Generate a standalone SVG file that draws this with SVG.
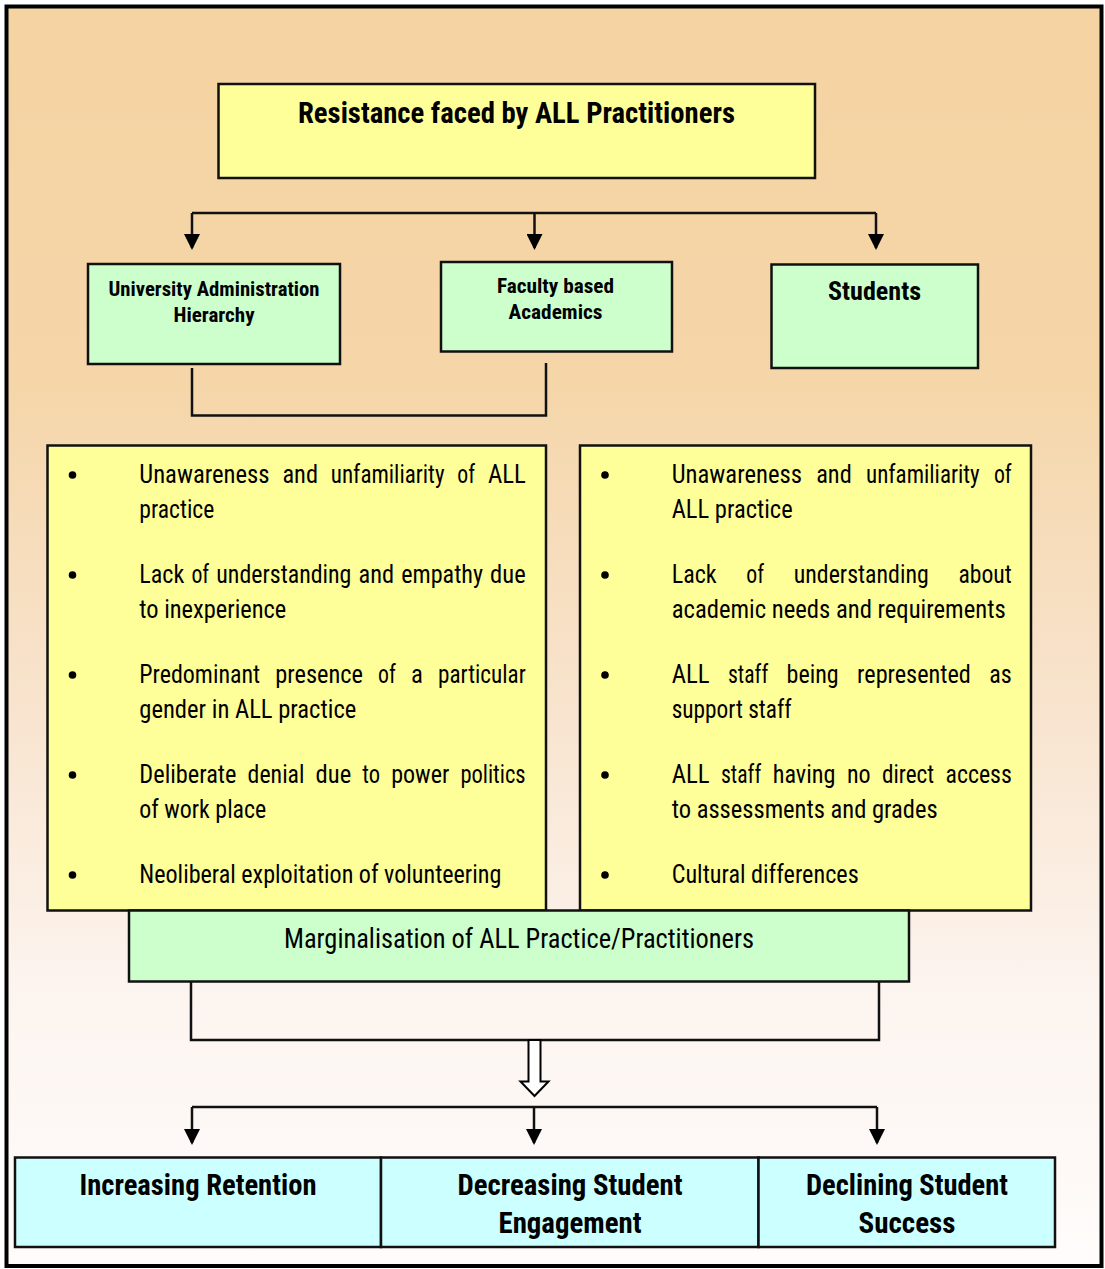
<svg xmlns="http://www.w3.org/2000/svg" width="1105" height="1269" viewBox="0 0 1105 1269">
<style>
.t{font-family:"Liberation Sans Narrow","Arial Narrow","Roboto Condensed","Liberation Sans",Arial,sans-serif;fill:#000}
.b{font-weight:bold}
.c{text-anchor:middle}
.box{stroke:#111;stroke-width:2.5}
.yel{fill:#FFFF99}
.grn{fill:#CCFFCC}
.cyn{fill:#CCFFFF}
.ln{fill:none;stroke:#111;stroke-width:2.5}
.body{font-size:25px}
.dot{fill:#000}
</style>
<defs>
<linearGradient id="bg" x1="0" y1="0" x2="0" y2="1">
<stop offset="0" stop-color="#F5D3A2"/>
<stop offset="0.3" stop-color="#F5D6A9"/>
<stop offset="0.55" stop-color="#F8E3CD"/>
<stop offset="0.78" stop-color="#FCF4EF"/>
<stop offset="1" stop-color="#FFFCFB"/>
</linearGradient>
<marker id="ah" viewBox="0 0 16 16" refX="14" refY="8" markerWidth="16" markerHeight="16" markerUnits="userSpaceOnUse" orient="auto">
<path d="M0,0 L16,8 L0,16 z" fill="#000"/>
</marker>
</defs>
<rect x="6.5" y="6.5" width="1095" height="1259.5" fill="url(#bg)" stroke="#000" stroke-width="4"/>

<g id="connectors">
<path class="ln" d="M192,213 H876"/>
<path class="ln" d="M192,213 V248" marker-end="url(#ah)"/>
<path class="ln" d="M534.5,213 V248" marker-end="url(#ah)"/>
<path class="ln" d="M876,213 V248" marker-end="url(#ah)"/>
<path class="ln" d="M192,368 V415.5 H546 V363"/>
<path class="ln" d="M191,981 V1040 H879 V981"/>
<polygon points="528.5,1040 540.5,1040 540.5,1081.5 548.5,1081.5 534.5,1096 520.5,1081.5 528.5,1081.5" fill="#fff" stroke="#000" stroke-width="2"/>
<path class="ln" d="M192,1107 H877"/>
<path class="ln" d="M192,1107 V1143" marker-end="url(#ah)"/>
<path class="ln" d="M534,1107 V1143" marker-end="url(#ah)"/>
<path class="ln" d="M877,1107 V1143" marker-end="url(#ah)"/>
</g>

<g id="title">
<rect class="box yel" x="218.5" y="84" width="596.5" height="94"/>
<text class="t b c" x="516.5" y="122.5" font-size="29" textLength="437" lengthAdjust="spacingAndGlyphs">Resistance faced by ALL Practitioners</text>
</g>

<g id="univ-admin">
<rect class="box grn" x="88" y="264" width="252" height="100"/>
<text class="t b c" x="214" y="295.5" font-size="21" textLength="211" lengthAdjust="spacingAndGlyphs">University Administration</text>
<text class="t b c" x="214" y="322" font-size="21" textLength="81" lengthAdjust="spacingAndGlyphs">Hierarchy</text>
</g>

<g id="faculty">
<rect class="box grn" x="441" y="262" width="231" height="89.5"/>
<text class="t b c" x="555.5" y="293" font-size="21" textLength="117" lengthAdjust="spacingAndGlyphs">Faculty based</text>
<text class="t b c" x="555.5" y="319" font-size="21" textLength="94" lengthAdjust="spacingAndGlyphs">Academics</text>
</g>

<g id="students">
<rect class="box grn" x="771.5" y="264.5" width="206.5" height="103.5"/>
<text class="t b c" x="874.5" y="300" font-size="26" textLength="93" lengthAdjust="spacingAndGlyphs">Students</text>
</g>

<g id="left-list">
<rect class="box yel" x="47.5" y="445.5" width="498.5" height="465"/>
<circle class="dot" cx="72.5" cy="475" r="3.8"/>
<circle class="dot" cx="72.5" cy="575" r="3.8"/>
<circle class="dot" cx="72.5" cy="675" r="3.8"/>
<circle class="dot" cx="72.5" cy="775" r="3.8"/>
<circle class="dot" cx="72.5" cy="875" r="3.8"/>
<text class="t body" y="483" lengthAdjust="spacingAndGlyphs"><tspan x="139.3" textLength="130.3" lengthAdjust="spacingAndGlyphs">Unawareness</tspan><tspan x="282.4" textLength="35.6" lengthAdjust="spacingAndGlyphs">and</tspan><tspan x="330.8" textLength="113.7" lengthAdjust="spacingAndGlyphs">unfamiliarity</tspan><tspan x="457.3" textLength="17.8" lengthAdjust="spacingAndGlyphs">of</tspan><tspan x="487.9" textLength="37.9" lengthAdjust="spacingAndGlyphs">ALL</tspan></text>
<text class="t body" x="139.3" y="518" textLength="75" lengthAdjust="spacingAndGlyphs">practice</text>
<text class="t body" y="583"><tspan x="139.3" textLength="45" lengthAdjust="spacingAndGlyphs">Lack</tspan><tspan x="191.4" textLength="17.8" lengthAdjust="spacingAndGlyphs">of</tspan><tspan x="216.3" textLength="135.1" lengthAdjust="spacingAndGlyphs">understanding</tspan><tspan x="358.5" textLength="35.6" lengthAdjust="spacingAndGlyphs">and</tspan><tspan x="401.2" textLength="81.8" lengthAdjust="spacingAndGlyphs">empathy</tspan><tspan x="490.1" textLength="35.6" lengthAdjust="spacingAndGlyphs">due</tspan></text>
<text class="t body" x="139.3" y="618" textLength="147" lengthAdjust="spacingAndGlyphs">to inexperience</text>
<text class="t body" y="683"><tspan x="139.3" textLength="120.9" lengthAdjust="spacingAndGlyphs">Predominant</tspan><tspan x="275.3" textLength="87.7" lengthAdjust="spacingAndGlyphs">presence</tspan><tspan x="378.1" textLength="17.8" lengthAdjust="spacingAndGlyphs">of</tspan><tspan x="411" textLength="11.9" lengthAdjust="spacingAndGlyphs">a</tspan><tspan x="438" textLength="87.7" lengthAdjust="spacingAndGlyphs">particular</tspan></text>
<text class="t body" x="139.3" y="718" textLength="217" lengthAdjust="spacingAndGlyphs">gender in ALL practice</text>
<text class="t body" y="783"><tspan x="139.3" textLength="97.2" lengthAdjust="spacingAndGlyphs">Deliberate</tspan><tspan x="247.6" textLength="56.9" lengthAdjust="spacingAndGlyphs">denial</tspan><tspan x="315.6" textLength="35.6" lengthAdjust="spacingAndGlyphs">due</tspan><tspan x="362.3" textLength="17.8" lengthAdjust="spacingAndGlyphs">to</tspan><tspan x="391.2" textLength="58.1" lengthAdjust="spacingAndGlyphs">power</tspan><tspan x="460.4" textLength="65.2" lengthAdjust="spacingAndGlyphs">politics</tspan></text>
<text class="t body" x="139.3" y="818" textLength="127" lengthAdjust="spacingAndGlyphs">of work place</text>
<text class="t body" x="139.3" y="883" textLength="362" lengthAdjust="spacingAndGlyphs">Neoliberal exploitation of volunteering</text>
</g>

<g id="right-list">
<rect class="box yel" x="580" y="445.5" width="451" height="465"/>
<circle class="dot" cx="605" cy="475" r="3.8"/>
<circle class="dot" cx="605" cy="575" r="3.8"/>
<circle class="dot" cx="605" cy="675" r="3.8"/>
<circle class="dot" cx="605" cy="775" r="3.8"/>
<circle class="dot" cx="605" cy="875" r="3.8"/>
<text class="t body" y="483"><tspan x="671.7" textLength="130.3" lengthAdjust="spacingAndGlyphs">Unawareness</tspan><tspan x="816.2" textLength="35.6" lengthAdjust="spacingAndGlyphs">and</tspan><tspan x="866" textLength="113.7" lengthAdjust="spacingAndGlyphs">unfamiliarity</tspan><tspan x="993.9" textLength="17.8" lengthAdjust="spacingAndGlyphs">of</tspan></text>
<text class="t body" x="671.7" y="518" textLength="121" lengthAdjust="spacingAndGlyphs">ALL practice</text>
<text class="t body" y="583"><tspan x="671.7" textLength="45" lengthAdjust="spacingAndGlyphs">Lack</tspan><tspan x="746.3" textLength="17.8" lengthAdjust="spacingAndGlyphs">of</tspan><tspan x="793.7" textLength="135.1" lengthAdjust="spacingAndGlyphs">understanding</tspan><tspan x="958.4" textLength="53.3" lengthAdjust="spacingAndGlyphs">about</tspan></text>
<text class="t body" x="671.7" y="618" textLength="334" lengthAdjust="spacingAndGlyphs">academic needs and requirements</text>
<text class="t body" y="683"><tspan x="671.7" textLength="37.9" lengthAdjust="spacingAndGlyphs">ALL</tspan><tspan x="728" textLength="40.3" lengthAdjust="spacingAndGlyphs">staff</tspan><tspan x="786.6" textLength="52.1" lengthAdjust="spacingAndGlyphs">being</tspan><tspan x="857.1" textLength="113.8" lengthAdjust="spacingAndGlyphs">represented</tspan><tspan x="989.2" textLength="22.5" lengthAdjust="spacingAndGlyphs">as</tspan></text>
<text class="t body" x="671.7" y="718" textLength="120" lengthAdjust="spacingAndGlyphs">support staff</text>
<text class="t body" y="783"><tspan x="671.7" textLength="37.9" lengthAdjust="spacingAndGlyphs">ALL</tspan><tspan x="721" textLength="40.3" lengthAdjust="spacingAndGlyphs">staff</tspan><tspan x="772.7" textLength="62.8" lengthAdjust="spacingAndGlyphs">having</tspan><tspan x="846.9" textLength="23.7" lengthAdjust="spacingAndGlyphs">no</tspan><tspan x="882" textLength="52.1" lengthAdjust="spacingAndGlyphs">direct</tspan><tspan x="945.5" textLength="66.3" lengthAdjust="spacingAndGlyphs">access</tspan></text>
<text class="t body" x="671.7" y="818" textLength="266" lengthAdjust="spacingAndGlyphs">to assessments and grades</text>
<text class="t body" x="671.7" y="883" textLength="187" lengthAdjust="spacingAndGlyphs">Cultural differences</text>
</g>

<g id="marginalisation">
<rect class="box grn" x="129" y="910.5" width="780" height="71"/>
<text class="t c" x="519" y="948" font-size="27" textLength="470" lengthAdjust="spacingAndGlyphs">Marginalisation of ALL Practice/Practitioners</text>
</g>

<g id="retention">
<rect class="box cyn" x="15" y="1157.5" width="366" height="89.5"/>
<text class="t b c" x="198" y="1195" font-size="29" textLength="237" lengthAdjust="spacingAndGlyphs">Increasing Retention</text>
</g>

<g id="engagement">
<rect class="box cyn" x="381" y="1157.5" width="377.5" height="89.5"/>
<text class="t b c" x="570" y="1195" font-size="29" textLength="225" lengthAdjust="spacingAndGlyphs">Decreasing Student</text>
<text class="t b c" x="570" y="1233" font-size="29" textLength="143" lengthAdjust="spacingAndGlyphs">Engagement</text>
</g>

<g id="success">
<rect class="box cyn" x="758.5" y="1157.5" width="296.5" height="89.5"/>
<text class="t b c" x="907" y="1195" font-size="29" textLength="202" lengthAdjust="spacingAndGlyphs">Declining Student</text>
<text class="t b c" x="907" y="1233" font-size="29" textLength="97" lengthAdjust="spacingAndGlyphs">Success</text>
</g>
</svg>
